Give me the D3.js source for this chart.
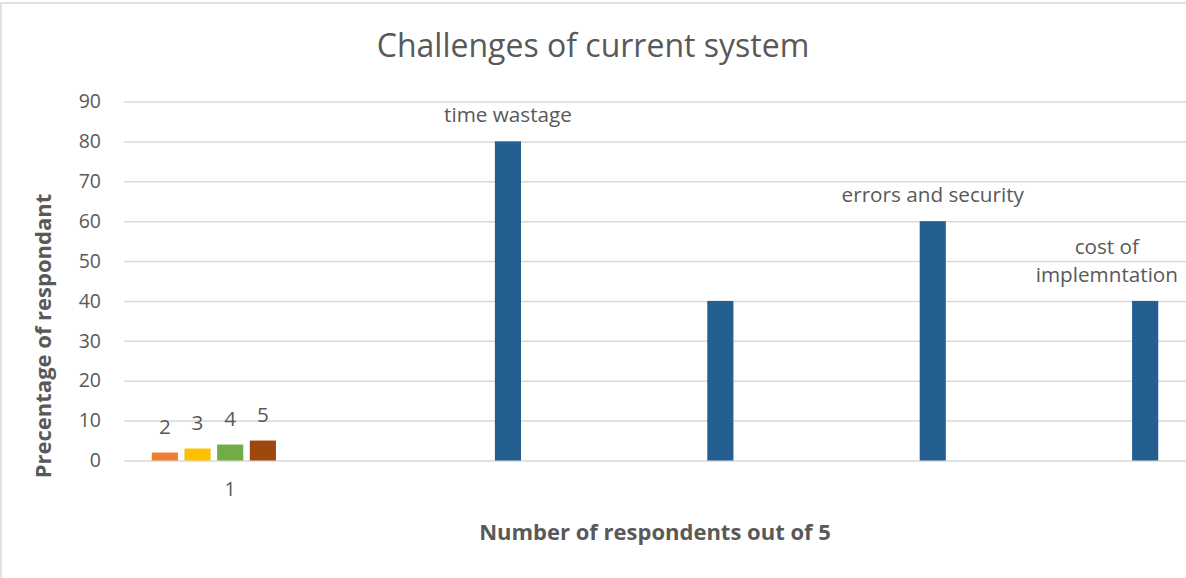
<!DOCTYPE html>
<html>
<head>
<meta charset="utf-8">
<script src="https://cdn.jsdelivr.net/npm/d3@7"></script>
<style>
  body { margin: 0; background: #fff; }
  svg { display: block; }
  text { font-family: "Open Sans", sans-serif; fill: #595959; }
</style>
</head>
<body>
<svg id="chart" width="1186" height="578"></svg>
<script>
// datos del gráfico
const categories = ["1", "2", "3", "4", "5"];
const tickLabels = ["1", "", "", "", ""];
const seriesNames = ["s2", "s3", "s4", "s5", "challenges"];
const seriesColors = ["#ED7D31", "#FFC000", "#70AD47", "#9E480E", "#255E91"];
const s2 = [2, null, null, null, null];
const s3 = [3, null, null, null, null];
const s4 = [4, null, null, null, null];
const s5 = [5, null, null, null, null];
const challenges = [null, 80, 40, 60, 40];
const challengeLabels = [null, "time wastage", "", "errors and security", "cost of\nimplemntation"];
const yTicks = [0, 10, 20, 30, 40, 50, 60, 70, 80, 90];

const seriesValues = [s2, s3, s4, s5, challenges];
// etiquetas: valor para las series pequeñas, texto para la serie azul
const seriesLabels = [
    s2.map(v => v == null ? null : String(v)),
    s3.map(v => v == null ? null : String(v)),
    s4.map(v => v == null ? null : String(v)),
    s5.map(v => v == null ? null : String(v)),
    challengeLabels
];

const W = 1186, H = 578;
const margin = { left: 124, right: 0, top: 101.5, bottom: 117 };

const svg = d3.select("#chart");

// borde del gráfico
svg.append("rect")
    .attr("x", 1).attr("y", 3)
    .attr("width", W + 10).attr("height", H + 10)
    .attr("fill", "none")
    .attr("stroke", "#d9d9d9")
    .attr("stroke-width", 1.5);

const x0 = d3.scaleBand()
    .domain(categories)
    .range([margin.left, W - margin.right])
    .padding(0);

const x1 = d3.scaleBand()
    .domain(seriesNames)
    .range([0, x0.bandwidth()])
    .paddingInner(0.2)
    .paddingOuter(0.85);

const y = d3.scaleLinear()
    .domain([0, 90])
    .range([H - margin.bottom - 0.5, margin.top]);

// líneas de cuadrícula
const yAxis = d3.axisLeft(y)
    .tickValues(yTicks)
    .tickSize(-(W - margin.left - margin.right))
    .tickPadding(23);

const gy = svg.append("g")
    .attr("transform", `translate(${margin.left},0)`)
    .call(yAxis);
gy.select(".domain").remove();
gy.selectAll(".tick line")
    .attr("stroke", "#d9d9d9")
    .attr("stroke-width", 1.5);
gy.selectAll(".tick text")
    .style("font-family", "'Open Sans', sans-serif")
    .style("font-size", "19.5px")
    .attr("fill", "#595959");

// eje x (solo etiquetas)
const xAxis = d3.axisBottom(x0)
    .tickSize(0)
    .tickPadding(22)
    .tickFormat((d, i) => tickLabels[i]);
const gx = svg.append("g")
    .attr("transform", `translate(0,${y(0)})`)
    .call(xAxis);
gx.select(".domain").remove();
gx.selectAll(".tick text")
    .style("font-family", "'Open Sans', sans-serif")
    .style("font-size", "19.5px")
    .attr("fill", "#595959");

// barras
const barData = [];
seriesValues.forEach((vals, si) => {
    vals.forEach((v, ci) => {
        if (v == null) return;
        barData.push({ cat: categories[ci], series: seriesNames[si], color: seriesColors[si], value: v, label: seriesLabels[si][ci] });
    });
});

svg.append("g").selectAll("rect")
    .data(barData)
    .enter()
    .append("rect")
    .attr("x", d => x0(d.cat) + x1(d.series))
    .attr("y", d => y(d.value))
    .attr("width", x1.bandwidth())
    .attr("height", d => y(0) - y(d.value))
    .attr("fill", d => d.color);

// etiquetas de datos
const labels = svg.append("g");
barData.filter(d => d.label).forEach(d => {
    const cx = x0(d.cat) + x1(d.series) + x1.bandwidth() / 2;
    const lines = d.label.split("\n");
    const t = labels.append("text")
        .attr("text-anchor", "middle")
        .style("font-size", "20.7px");
    lines.forEach((ln, i) => {
        t.append("tspan")
            .attr("x", cx)
            .attr("y", y(d.value) - 19 - (lines.length - 1 - i) * 28)
            .text(ln);
    });
    // mantener la etiqueta dentro del gráfico
    const box = t.node().getBBox();
    const over = box.x + box.width - (W - 8);
    if (over > 0) t.selectAll("tspan").attr("x", cx - over);
});

// título
svg.append("text")
    .attr("x", W / 2)
    .attr("y", 57)
    .attr("text-anchor", "middle")
    .style("font-size", "32px")
    .text("Challenges of current system");

// título eje y
svg.append("text")
    .attr("transform", `translate(51,${(y(0) + y(90)) / 2 + 55}) rotate(-90)`)
    .attr("text-anchor", "middle")
    .style("font-size", "22px")
    .style("font-weight", "bold")
    .text("Precentage of respondant");

// título eje x
svg.append("text")
    .attr("x", (margin.left + W - margin.right) / 2)
    .attr("y", 540)
    .attr("text-anchor", "middle")
    .style("font-size", "22px")
    .style("font-weight", "bold")
    .text("Number of respondents out of 5");
</script>
</body>
</html>
